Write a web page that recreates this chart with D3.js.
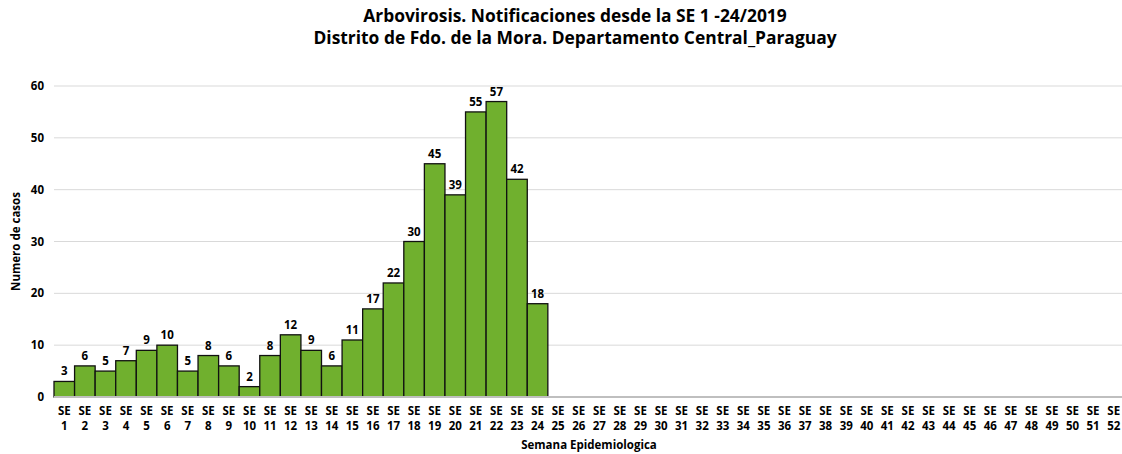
<!DOCTYPE html>
<html lang="en">
<head>
    <meta charset="UTF-8">
    <title>Arbovirosis</title>
    <script src="https://d3js.org/d3.v7.min.js"></script>
    <style>
        body { margin: 0; background: #fff; }
        text { font-family: "Open Sans", "Noto Sans", sans-serif; font-weight: bold; fill: #000; }
    </style>
</head>
<body>
<svg id="chart" width="1122" height="454"></svg>
<script>
    const weeks = d3.range(1, 53).map(d => "SE " + d);
    const cases = [3, 6, 5, 7, 9, 10, 5, 8, 6, 2, 8, 12, 9, 6, 11, 17, 22, 30, 45, 39, 55, 57, 42, 18];
    const yTicks = [0, 10, 20, 30, 40, 50, 60];
    const titleLines = ["Arbovirosis. Notificaciones desde la SE 1 -24/2019",
                        "Distrito de Fdo. de la Mora. Departamento Central_Paraguay"];

    const svg = d3.select("#chart");
    const margin = { top: 86, left: 54, right: -2, bottom: 57 };
    const width = 1122 - margin.left - margin.right;
    const height = 454 - margin.top - margin.bottom;

    const x = d3.scaleBand().domain(weeks).range([margin.left, margin.left + width]).padding(0);
    const y = d3.scaleLinear().domain([0, 60]).range([margin.top + height, margin.top]);

    // title
    svg.append("g").selectAll("text")
        .data(titleLines)
        .enter().append("text")
        .attr("x", 575)
        .attr("y", (d, i) => 22 + i * 22)
        .attr("text-anchor", "middle")
        .style("font-size", "17.4px")
        .text(d => d);

    // gridlines
    svg.append("g").selectAll("line")
        .data(yTicks.filter(d => d > 0))
        .enter().append("line")
        .attr("x1", margin.left).attr("x2", margin.left + width)
        .attr("y1", d => y(d)).attr("y2", d => y(d))
        .attr("stroke", "#d9d9d9").attr("stroke-width", 1);

    // y tick labels
    svg.append("g").selectAll("text")
        .data(yTicks)
        .enter().append("text")
        .attr("x", 44)
        .attr("y", d => y(d) + 4)
        .attr("text-anchor", "end")
        .style("font-size", "11.5px")
        .text(d => d);

    // bars
    const barData = cases.map((v, i) => ({ week: weeks[i], value: v }));
    svg.append("g").selectAll("rect")
        .data(barData)
        .enter().append("rect")
        .attr("x", d => x(d.week))
        .attr("y", d => y(d.value))
        .attr("width", x.bandwidth())
        .attr("height", d => y(0) - y(d.value))
        .attr("fill", "#70b02e")
        .attr("stroke", "#111")
        .attr("stroke-width", 1.3);

    // value labels
    svg.append("g").selectAll("text")
        .data(barData)
        .enter().append("text")
        .attr("x", d => x(d.week) + x.bandwidth() / 2)
        .attr("y", d => y(d.value) - 6)
        .attr("text-anchor", "middle")
        .style("font-size", "11.5px")
        .text(d => d.value);

    // baseline
    svg.append("line")
        .attr("x1", margin.left).attr("x2", margin.left + width)
        .attr("y1", y(0)).attr("y2", y(0))
        .attr("stroke", "#bfbfbf").attr("stroke-width", 2);

    // x labels
    const xl = svg.append("g").selectAll("text")
        .data(weeks)
        .enter().append("text")
        .attr("text-anchor", "middle")
        .style("font-size", "11.5px");
    xl.append("tspan")
        .attr("x", d => x(d) + x.bandwidth() / 2)
        .attr("y", 415)
        .text(d => d.split(" ")[0]);
    xl.append("tspan")
        .attr("x", d => x(d) + x.bandwidth() / 2)
        .attr("y", 430)
        .text(d => d.split(" ")[1]);

    // axis titles
    svg.append("text")
        .attr("x", 589).attr("y", 449)
        .attr("text-anchor", "middle")
        .style("font-size", "11.5px")
        .text("Semana Epidemiologica");

    svg.append("text")
        .attr("transform", "translate(20," + (y(30)) + ") rotate(-90)")
        .attr("text-anchor", "middle")
        .style("font-size", "11.5px")
        .text("Numero de casos");
</script>
</body>
</html>
